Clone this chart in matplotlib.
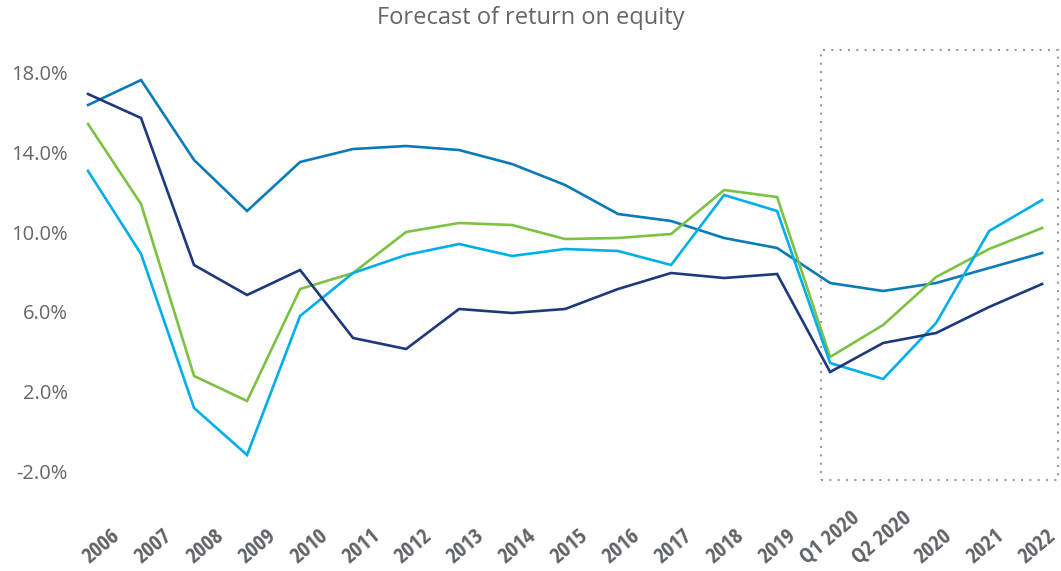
import matplotlib.pyplot as plt
import matplotlib.transforms as mtransforms
from matplotlib.patches import Rectangle
import numpy as np

periods = ["2006", "2007", "2008", "2009", "2010", "2011", "2012", "2013",
           "2014", "2015", "2016", "2017", "2018", "2019", "Q1 2020",
           "Q2 2020", "2020", "2021", "2022"]

# return on equity, %
navy = [16.9, 15.7, 8.35, 6.85, 8.1, 4.7, 4.15, 6.15, 5.95, 6.15, 7.15,
        7.95, 7.7, 7.9, 3.0, 4.45, 4.95, 6.25, 7.4]
mid_blue = [16.35, 17.6, 13.6, 11.05, 13.5, 14.15, 14.3, 14.1, 13.4, 12.35,
            10.9, 10.55, 9.7, 9.2, 7.45, 7.05, 7.45, 8.2, 8.95]
light_blue = [13.05, 8.9, 1.2, -1.15, 5.8, 7.95, 8.85, 9.4, 8.8, 9.15, 9.05,
              8.35, 11.85, 11.05, 3.45, 2.65, 5.45, 10.05, 11.6]
green = [15.4, 11.4, 2.8, 1.55, 7.15, 7.95, 10.0, 10.45, 10.35, 9.65, 9.7,
         9.9, 12.1, 11.75, 3.75, 5.35, 7.75, 9.15, 10.2]

yticks = [-2, 2, 6, 10, 14, 18]

series = [
    (mid_blue, "#0a7bb6"),
    (green, "#7dc143"),
    (light_blue, "#00aee8"),
    (navy, "#1d397b"),
]

fig = plt.figure(figsize=(10.61, 5.71), dpi=100)
ax = fig.add_axes([0.068, 0.1384, 0.9317, 0.788])

x = np.arange(len(periods))
for vals, colour in series:
    ax.plot(x, vals, color=colour, lw=1.9, solid_joinstyle="miter")

ax.set_xlim(-0.3, 18.35)
ax.set_ylim(-3, 19.5)

for side in ["top", "right", "left", "bottom"]:
    ax.spines[side].set_visible(False)

ax.set_yticks(yticks)
ax.set_yticklabels(["{:.1f}%".format(v) for v in yticks],
                   family="Open Sans", fontsize=14.5, color="#666666")
ax.tick_params(axis="y", length=0, pad=3)
ax.set_xticks([])

# category labels: centred a little right of each point, drifting left,
# longer labels sit a bit higher
trans = mtransforms.blended_transform_factory(ax.transData, ax.transAxes)
for i, lab in enumerate(periods):
    drop = 67 - 3 * len(lab)
    t = mtransforms.offset_copy(trans, fig=fig, x=0, y=-drop, units="dots")
    ax.text(0.264 + 0.981 * i, 0, lab, transform=t, rotation=40,
            ha="center", va="center", rotation_mode="anchor",
            fontweight="bold", fontsize=16,
            family=["Open Sans Condensed", "Barlow Semi Condensed",
                    "DejaVu Sans"],
            color="#5f6368", clip_on=False)

# forecast window
box = Rectangle((13.83, -2.4), 18.3 - 13.83, 19.1 + 2.4, fill=False,
                edgecolor="#9a9a9a", lw=1.5, linestyle=(0, (1, 3)),
                clip_on=False)
ax.add_patch(box)

fig.text(531 / 1061, 1 - 18 / 571, "Forecast of return on equity",
         ha="center", va="center", family="Open Sans", fontsize=17,
         color="#666666")

fig.savefig("out.png", dpi=100)
